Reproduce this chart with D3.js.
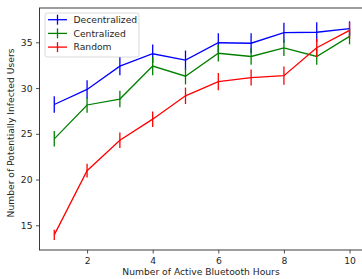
<!DOCTYPE html>
<html><head><meta charset="utf-8">
<script src="https://cdn.jsdelivr.net/npm/d3@7"></script>
<style>html,body{margin:0;padding:0;background:#fff;overflow:hidden}svg{display:block}</style>
</head><body>
<svg id="c" width="362" height="279"></svg>
<script>
const hours = [1,2,3,4,5,6,7,8,9,10];
const seriesNames = ["Decentralized","Centralized","Random"];
const seriesColors = ["#0000ff","#008000","#ff0000"];
const decentralized = [28.2,29.85,32.4,33.75,33.05,34.95,34.9,36.05,36.1,36.5];
const decentralizedErr = [0.9,1.0,1.0,1.0,1.05,1.05,1.1,1.1,1.1,0.8];
const centralized = [24.45,28.15,28.8,32.4,31.3,33.8,33.45,34.4,33.45,35.65];
const centralizedErr = [0.85,0.85,0.9,1.0,0.9,0.9,0.9,0.9,0.9,0.87];
const random = [13.95,20.97,24.3,26.6,29.15,30.7,31.15,31.35,34.4,36.3];
const randomErr = [0.55,0.75,0.85,0.85,0.9,0.95,0.87,1.0,1.0,0.9];
const xTicks = [2,4,6,8,10];
const yTicks = [15,20,25,30,35];

const svg = d3.select("#c");
const font = "DejaVu Sans, sans-serif";
const fs = 9.2;
const x = d3.scaleLinear().domain([0.55,10.45]).range([39.5,364.3]);
const y = d3.scaleLinear().domain([12.3,38.75]).range([250,8]);

const data = [
  {name:seriesNames[0], color:seriesColors[0], v:decentralized, e:decentralizedErr},
  {name:seriesNames[1], color:seriesColors[1], v:centralized, e:centralizedErr},
  {name:seriesNames[2], color:seriesColors[2], v:random, e:randomErr}
];

const line = d3.line().x((d,i)=>x(hours[i])).y(d=>y(d));
data.forEach(s=>{
  const g = svg.append("g");
  g.append("path").attr("d", line(s.v)).attr("fill","none")
    .attr("stroke", s.color).attr("stroke-width",1.3);
  g.selectAll("line.err").data(s.v).enter().append("line")
    .attr("x1",(d,i)=>x(hours[i])).attr("x2",(d,i)=>x(hours[i]))
    .attr("y1",(d,i)=>y(d - s.e[i])).attr("y2",(d,i)=>y(d + s.e[i]))
    .attr("stroke", s.color).attr("stroke-width",1.3);
});

// axes
const xAxis = d3.axisBottom(x).tickValues(xTicks).tickSize(3.5).tickPadding(3.5).tickFormat(d3.format("d"));
const yAxis = d3.axisLeft(y).tickValues(yTicks).tickSize(3.5).tickPadding(3.5).tickFormat(d3.format("d"));
const gx = svg.append("g").attr("transform","translate(0,250)").call(xAxis);
const gy = svg.append("g").attr("transform","translate(39.5,0)").call(yAxis);
[gx,gy].forEach(g=>{
  g.select(".domain").remove();
  g.selectAll("text").attr("font-family",font).attr("font-size",fs).attr("fill","#262626");
  g.selectAll("line").attr("stroke","#262626").attr("stroke-width",0.8);
});
// spines
const sp = svg.append("g").attr("fill","none").attr("stroke","#262626").attr("stroke-width",0.9);
sp.append("rect").attr("x",39.5).attr("y",8).attr("width",324.8).attr("height",242);

// labels
svg.append("text").attr("x",201).attr("y",275).attr("text-anchor","middle")
  .attr("font-family",font).attr("font-size",fs).attr("fill","#262626")
  .text("Number of Active Bluetooth Hours");
svg.append("text").attr("transform","translate(14,133) rotate(-90)").attr("text-anchor","middle")
  .attr("font-family",font).attr("font-size",fs).attr("fill","#262626")
  .text("Number of Potentially Infected Users");

// legend
const lg = svg.append("g");
lg.append("rect").attr("x",45).attr("y",13).attr("width",94).attr("height",44).attr("rx",2)
  .attr("fill","#fff").attr("fill-opacity",0.8).attr("stroke","#d0d0d0").attr("stroke-width",0.8);
data.forEach((s,i)=>{
  const yy = 19.7 + i*13.7;
  lg.append("line").attr("x1",48).attr("x2",67).attr("y1",yy).attr("y2",yy).attr("stroke",s.color).attr("stroke-width",1.3);
  lg.append("line").attr("x1",57.5).attr("x2",57.5).attr("y1",yy-5).attr("y2",yy+5).attr("stroke",s.color).attr("stroke-width",1.3);
  lg.append("text").attr("x",73.5).attr("y",yy+3.3).attr("font-family",font).attr("font-size",fs)
    .attr("fill","#262626").text(s.name);
});
</script>
</body></html>
